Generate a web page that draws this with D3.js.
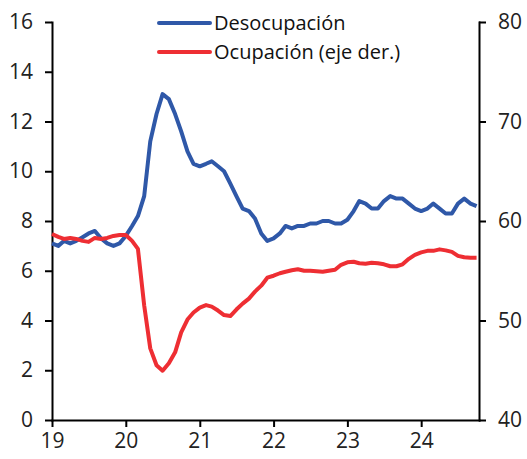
<!DOCTYPE html>
<meta charset="utf-8">
<style>
    body { margin: 0; background: #fff; }
    svg { display: block; font-family: "Open Sans", sans-serif; }
    .axis path, .axis line { stroke: #000; stroke-width: 2px; }
    .axis text { font-size: 21px; fill: #222; font-family: "Open Sans", sans-serif; }
    .legend text { font-size: 20px; fill: #111; }
</style>
<svg id="chart" width="527" height="459"></svg>
<script src="https://cdn.jsdelivr.net/npm/d3@7"></script>
<script>
    // monthly, Jan 2019 .. Oct 2024
    var startMonth = new Date(2019, 0, 1);
    var endMonth = new Date(2024, 10, 1);
    var months = d3.timeMonth.range(startMonth, endMonth);

    var yearTicks = [2019, 2020, 2021, 2022, 2023, 2024];
    var leftTicks = [0, 2, 4, 6, 8, 10, 12, 14, 16];
    var rightTicks = [40, 50, 60, 70, 80];

    // Desocupación (%), left axis
    var desocupacion = [
        7.1, 7.0, 7.2, 7.1, 7.2, 7.35, 7.5, 7.6, 7.3, 7.1, 7.0, 7.1,
        7.4, 7.8, 8.2, 9.0, 11.2, 12.3, 13.1, 12.9, 12.3, 11.6, 10.8, 10.3,
        10.2, 10.3, 10.4, 10.2, 10.0, 9.5, 9.0, 8.5, 8.4, 8.1, 7.5, 7.2,
        7.3, 7.5, 7.8, 7.7, 7.8, 7.8, 7.9, 7.9, 8.0, 8.0, 7.9, 7.9,
        8.05, 8.4, 8.8, 8.7, 8.5, 8.5, 8.8, 9.0, 8.9, 8.9, 8.7, 8.5,
        8.4, 8.5, 8.7, 8.5, 8.3, 8.3, 8.7, 8.9, 8.7, 8.6
    ];

    // Ocupación (%), right axis
    var ocupacion = [
        58.7, 58.4, 58.2, 58.3, 58.2, 58.0, 57.9, 58.3, 58.2, 58.3, 58.5, 58.6,
        58.6, 58.0, 57.2, 51.5, 47.2, 45.5, 44.95, 45.7, 46.8, 48.8, 50.1, 50.8,
        51.3, 51.55, 51.4, 51.0, 50.55, 50.45, 51.1, 51.7, 52.2, 52.9, 53.5, 54.3,
        54.5, 54.75, 54.9, 55.05, 55.15, 55.0, 55.0, 54.95, 54.9, 55.0, 55.1, 55.6,
        55.85, 55.9, 55.75, 55.7, 55.8, 55.75, 55.65, 55.45, 55.45, 55.65, 56.2, 56.6,
        56.85, 57.0, 57.0, 57.15, 57.05, 56.9, 56.5, 56.35, 56.3, 56.3
    ];

    var series = [
        {name: "Desocupación", values: desocupacion, color: "#2f58a8", axis: "left"},
        {name: "Ocupación (eje der.)", values: ocupacion, color: "#ee2e33", axis: "right"}
    ];

    var svg = d3.select("#chart");
    var margin = {top: 22, right: 48, bottom: 39, left: 52};
    var width = +svg.attr("width") - margin.left - margin.right;
    var height = +svg.attr("height") - margin.top - margin.bottom;

    var x = d3.scaleTime()
        .domain([startMonth, new Date(2024, 9, 13)])
        .range([0, width]);
    var yLeft = d3.scaleLinear().domain([0, 16]).range([height, 0]);
    var yRight = d3.scaleLinear().domain([40, 80]).range([height, 0]);

    var g = svg.append("g")
        .attr("transform", "translate(" + margin.left + "," + margin.top + ")");

    g.append("g")
        .attr("class", "axis")
        .call(d3.axisLeft(yLeft).tickValues(leftTicks).tickSize(7).tickSizeOuter(0).tickPadding(12));

    g.append("g")
        .attr("class", "axis")
        .attr("transform", "translate(" + width + ",0)")
        .call(d3.axisRight(yRight).tickValues(rightTicks).tickSize(7).tickSizeOuter(0).tickPadding(12));

    g.append("g")
        .attr("class", "axis")
        .attr("transform", "translate(0," + height + ")")
        .call(d3.axisBottom(x)
            .tickValues(yearTicks.map(function (yr) { return new Date(yr, 0, 1); }))
            .tickFormat(d3.timeFormat("%y"))
            .tickSize(7).tickSizeOuter(0).tickPadding(6));

    g.selectAll(".axis .domain").attr("stroke-linecap", "square");

    series.forEach(function (s) {
        var yScale = s.axis === "left" ? yLeft : yRight;
        var line = d3.line()
            .x(function (d, i) { return x(months[i]); })
            .y(function (d) { return yScale(d); });
        g.append("path")
            .datum(s.values)
            .attr("fill", "none")
            .attr("stroke", s.color)
            .attr("stroke-width", 4)
            .attr("stroke-linejoin", "round")
            .attr("d", line);
    });

    var legend = svg.append("g").attr("class", "legend");
    series.forEach(function (s, i) {
        var ly = 23 + i * 29;
        legend.append("line")
            .attr("x1", 159).attr("x2", 210)
            .attr("y1", ly).attr("y2", ly)
            .attr("stroke", s.color)
            .attr("stroke-width", 4)
            .attr("stroke-linecap", "round");
        legend.append("text")
            .attr("x", 214)
            .attr("y", ly + 7)
            .text(s.name);
    });
</script>
